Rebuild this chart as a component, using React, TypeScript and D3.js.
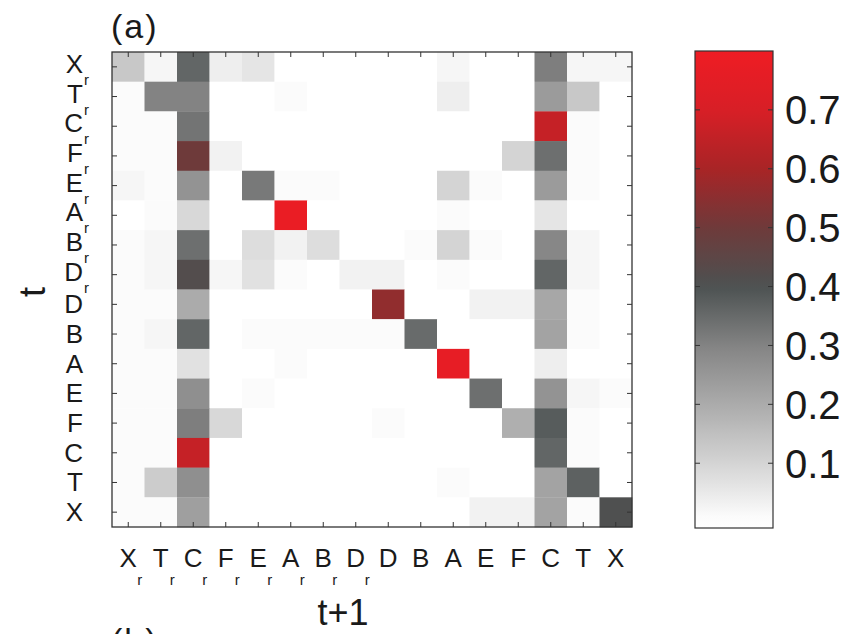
import React from "react";
import * as d3 from "d3";

// ---- data ----
const labels = ["X", "T", "C", "F", "E", "A", "B", "D", "D", "B", "A", "E", "F", "C", "T", "X"];
const reversed = [true, true, true, true, true, true, true, true, false, false, false, false, false, false, false, false];
const colorTicks = [0.1, 0.2, 0.3, 0.4, 0.5, 0.6, 0.7];
const colorStops = [0, 0.1, 0.2, 0.3, 0.4, 0.5, 0.6, 0.7, 0.8];
const colorValues = ["#ffffff", "#d4d4d4", "#ababab", "#838383", "#4c5252", "#6e3a3a", "#a82426", "#d81f26", "#ee1c24"];

// rows = t (top to bottom), columns = t+1 (left to right)
const rowXr = [0.13, 0.02, 0.36, 0.04, 0.06, 0, 0, 0, 0, 0, 0.02, 0, 0, 0.31, 0.02, 0.02];
const rowTr = [0.01, 0.30, 0.30, 0, 0, 0.01, 0, 0, 0, 0, 0.04, 0, 0, 0.24, 0.13, 0];
const rowCr = [0.01, 0.01, 0.33, 0, 0, 0, 0, 0, 0, 0, 0, 0, 0, 0.66, 0.01, 0];
const rowFr = [0.01, 0.01, 0.50, 0.03, 0, 0, 0, 0, 0, 0, 0, 0, 0.10, 0.34, 0.01, 0];
const rowEr = [0.02, 0.01, 0.26, 0, 0.32, 0.01, 0.01, 0, 0, 0, 0.10, 0.01, 0, 0.24, 0.01, 0];
const rowAr = [0, 0.01, 0.09, 0, 0, 0.78, 0, 0, 0, 0, 0.01, 0, 0, 0.06, 0, 0];
const rowBr = [0.01, 0.02, 0.34, 0, 0.08, 0.03, 0.08, 0, 0, 0.01, 0.10, 0.01, 0, 0.29, 0.02, 0];
const rowDr = [0.01, 0.02, 0.42, 0.02, 0.07, 0.01, 0, 0.03, 0.03, 0, 0.01, 0, 0, 0.36, 0.02, 0];
const rowD = [0.01, 0.01, 0.20, 0, 0, 0, 0, 0, 0.56, 0, 0, 0.03, 0.03, 0.21, 0.01, 0];
const rowB = [0.01, 0.02, 0.36, 0, 0.01, 0.01, 0.01, 0.01, 0.01, 0.35, 0, 0, 0, 0.22, 0.01, 0];
const rowA = [0.01, 0.01, 0.07, 0, 0, 0.01, 0, 0, 0, 0, 0.77, 0, 0, 0.04, 0, 0];
const rowE = [0.01, 0.01, 0.27, 0, 0.01, 0, 0, 0, 0, 0, 0, 0.34, 0, 0.26, 0.02, 0.01];
const rowF = [0.01, 0.01, 0.31, 0.09, 0, 0, 0, 0, 0.01, 0, 0, 0, 0.19, 0.38, 0.01, 0];
const rowC = [0.01, 0.01, 0.66, 0, 0, 0, 0, 0, 0, 0, 0, 0, 0, 0.36, 0.01, 0];
const rowT = [0.01, 0.12, 0.27, 0, 0, 0, 0, 0, 0, 0, 0.01, 0, 0, 0.22, 0.37, 0];
const rowX = [0.01, 0.01, 0.23, 0, 0, 0, 0, 0, 0, 0, 0, 0.03, 0.03, 0.22, 0.01, 0.41];
const matrix = [rowXr, rowTr, rowCr, rowFr, rowEr, rowAr, rowBr, rowDr, rowD, rowB, rowA, rowE, rowF, rowC, rowT, rowX];

const FONT = "'Liberation Sans', Arial, Helvetica, sans-serif";
const INK = "#1a1a1a";

export default function App() {
  const W = 856, H = 634;
  const left = 112, right = 632, top = 52, bottom = 527;
  const idx = d3.range(16);
  const x = d3.scaleBand<number>().domain(idx).range([left, right]);
  const y = d3.scaleBand<number>().domain(idx).range([top, bottom]);
  const color = d3.scaleLinear<string>().domain(colorStops).range(colorValues).interpolate(d3.interpolateRgb).clamp(true);

  const cb = { x0: 695, x1: 773, y0: 51, y1: 528 };
  const cbScale = d3.scaleLinear().domain([-0.01, 0.8]).range([cb.y1, cb.y0]);
  const gradStops = d3.range(0, 41).map((i) => -0.01 + (0.81 * i) / 40);

  const tickLen = 5;

  return (
    <svg width={W} height={H} style={{ position: "absolute", left: 0, top: 0, background: "#fff" }} fontFamily={FONT}>
      <defs>
        <linearGradient id="cbgrad" x1="0" y1="1" x2="0" y2="0">
          {gradStops.map((v, i) => (
            <stop key={i} offset={`${(i / 40) * 100}%`} stopColor={color(Math.max(0, v))} />
          ))}
        </linearGradient>
      </defs>
      <rect x={0} y={0} width={W} height={H} fill="#fff" />

      {/* cells */}
      {matrix.map((row, r) =>
        row.map((v, c) => (
          <rect key={`${r}-${c}`} x={x(c)} y={y(r)} width={x.bandwidth() + 0.3} height={y.bandwidth() + 0.3} fill={color(v)} />
        ))
      )}

      {/* ticks */}
      {idx.map((i) => {
        const cx = (x(i) as number) + x.bandwidth() / 2;
        const cy = (y(i) as number) + y.bandwidth() / 2;
        return (
          <g key={`t${i}`} stroke="#333" strokeWidth={1}>
            <line x1={cx} x2={cx} y1={top} y2={top + tickLen} />
            <line x1={cx} x2={cx} y1={bottom} y2={bottom - tickLen} />
            <line x1={left} x2={left + tickLen} y1={cy} y2={cy} />
            <line x1={right} x2={right - tickLen} y1={cy} y2={cy} />
          </g>
        );
      })}
      <rect x={left} y={top} width={right - left} height={bottom - top} fill="none" stroke="#333" strokeWidth={1.3} />

      {/* y labels */}
      {labels.map((l, i) => {
        const cy = (y(i) as number) + y.bandwidth() / 2;
        const base = reversed[i] ? cy + 6 : cy + 9;
        return (
          <g key={`yl${i}`} fill={INK}>
            <text x={83} y={base} fontSize={26} textAnchor="end">{l}</text>
            {reversed[i] && (
              <text x={84} y={base + 12} fontSize={15}>r</text>
            )}
          </g>
        );
      })}

      {/* x labels */}
      {labels.map((l, i) => {
        const cx = (x(i) as number) + x.bandwidth() / 2;
        return (
          <g key={`xl${i}`} fill={INK}>
            <text x={cx} y={567} fontSize={26} textAnchor="middle">{l}</text>
            {reversed[i] && (
              <text x={cx + 9} y={585} fontSize={15}>r</text>
            )}
          </g>
        );
      })}

      {/* axis titles */}
      <text x={343} y={625} fontSize={36} textAnchor="middle" fill={INK}>t+1</text>
      <text transform="translate(45,292) rotate(-90)" fontSize={36} textAnchor="middle" fill={INK}>t</text>
      <text x={111} y={38} fontSize={34} fill={INK} letterSpacing={2}>(a)</text>
      <text x={111} y={652} fontSize={34} fill={INK} letterSpacing={2}>(b)</text>

      {/* colorbar */}
      <rect x={cb.x0} y={cb.y0} width={cb.x1 - cb.x0} height={cb.y1 - cb.y0} fill="url(#cbgrad)" stroke="#333" strokeWidth={1.2} />
      {colorTicks.map((t) => {
        const ty = cbScale(t);
        return (
          <g key={`cb${t}`}>
            <line x1={cb.x0} x2={cb.x0 + 5} y1={ty} y2={ty} stroke="#333" strokeWidth={1} />
            <line x1={cb.x1} x2={cb.x1 - 5} y1={ty} y2={ty} stroke="#333" strokeWidth={1} />
            <text x={785} y={ty} dy="0.36em" fontSize={40} fill={INK}>{t.toFixed(1)}</text>
          </g>
        );
      })}
    </svg>
  );
}
